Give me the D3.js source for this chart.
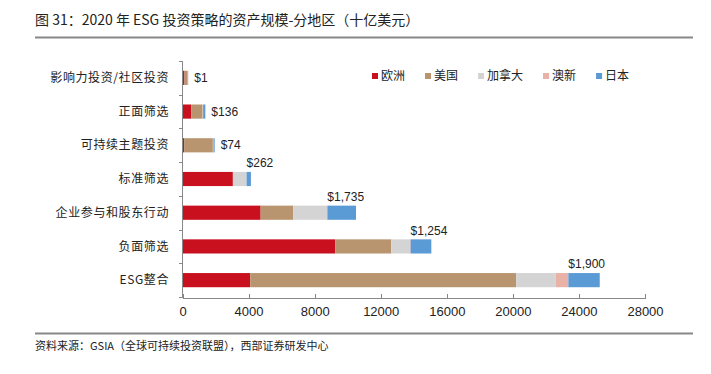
<!DOCTYPE html>
<meta charset="utf-8">
<head>
<title>ESG 投资策略的资产规模</title>
<style>
body { margin: 0; background: #fff; }
svg text { font-family: "Liberation Sans", Arial, "Noto Sans CJK SC", sans-serif; }
.cjk { font-family: "Noto Sans CJK SC", sans-serif; }
.axis path, .axis line { stroke: #888; shape-rendering: crispEdges; }
</style>
</head>
<body>
<script src="https://d3js.org/d3.v7.min.js"></script>
<script>

// Data (billions USD)
var categories = ["影响力投资/社区投资", "正面筛选", "可持续主题投资", "标准筛选", "企业参与和股东行动", "负面筛选", "ESG整合"];
var regions = ["欧洲", "美国", "加拿大", "澳新", "日本"];
var europe = [120, 530, 100, 3050, 4730, 9250, 4100];
var usa = [200, 690, 1740, 0, 1980, 3390, 16100];
var canada = [15, 20, 20, 830, 2060, 1110, 2400];
var australasia = [16, 8, 14, 0, 0, 60, 760];
var japan = [1, 136, 74, 262, 1735, 1254, 1900];
var valueLabels = ["$1", "$136", "$74", "$262", "$1,735", "$1,254", "$1,900"];
var xTicks = [0, 4000, 8000, 12000, 16000, 20000, 24000, 28000];

var colors = ["#c8101f", "#b8956e", "#d4d4d4", "#e8b2a7", "#5b9bd5"];

var W = 711, H = 374;

var svg = d3.select("body").append("svg")
    .attr("width", W)
    .attr("height", H);

// Title and rules
svg.append("text")
    .attr("class", "cjk")
    .attr("x", 35)
    .attr("y", 25)
    .style("font-size", "14px")
    .attr("fill", "#222")
    .text("图 31：2020 年 ESG 投资策略的资产规模-分地区（十亿美元）");

svg.append("line")
    .attr("x1", 35).attr("x2", 693)
    .attr("y1", 37.5).attr("y2", 37.5)
    .attr("stroke", "#888").attr("stroke-width", 2);

svg.append("line")
    .attr("x1", 35).attr("x2", 693)
    .attr("y1", 333.5).attr("y2", 333.5)
    .attr("stroke", "#888").attr("stroke-width", 2);

svg.append("text")
    .attr("class", "cjk")
    .attr("x", 35)
    .attr("y", 350)
    .style("font-size", "11px")
    .attr("fill", "#222")
    .text("资料来源：GSIA（全球可持续投资联盟），西部证券研发中心");

// Scales
var x = d3.scaleLinear().domain([0, 28000]).range([182.5, 645]);
var y = d3.scaleBand().domain(categories).range([61, 297]).paddingInner(0.58).paddingOuter(0.29);

// Stack
var rows = categories.map(function(c, i) {
    return { cat: c, "欧洲": europe[i], "美国": usa[i], "加拿大": canada[i], "澳新": australasia[i], "日本": japan[i] };
});
var stacked = d3.stack().keys(regions)(rows);

svg.append("g").selectAll("g")
    .data(stacked)
    .enter().append("g")
    .attr("fill", function(d, i) { return colors[i]; })
    .selectAll("rect")
    .data(function(d) { return d; })
    .enter().append("rect")
    .attr("x", function(d) { return x(d[0]); })
    .attr("width", function(d) { return Math.max(0, x(d[1]) - x(d[0])); })
    .attr("y", function(d) { return y(d.data.cat); })
    .attr("height", y.bandwidth());

// X axis
var xAxis = svg.append("g")
    .attr("class", "axis")
    .attr("transform", "translate(0,297.5)")
    .call(d3.axisBottom(x).tickValues(xTicks).tickFormat(d3.format("d")).tickSize(-4).tickSizeOuter(0).tickPadding(9));
xAxis.selectAll("text").style("font-size", "13px").attr("fill", "#222");

// Y axis: line with ticks at category boundaries
var yAxis = svg.append("g").attr("class", "axis");
yAxis.append("line")
    .attr("x1", 182.5).attr("x2", 182.5)
    .attr("y1", 61).attr("y2", 297.5);
yAxis.selectAll(".ytick")
    .data(d3.range(categories.length + 1))
    .enter().append("line")
    .attr("class", "ytick")
    .attr("x1", 179).attr("x2", 182.5)
    .attr("y1", function(i) { return Math.round(61 + i * y.step()) + 0.5; })
    .attr("y2", function(i) { return Math.round(61 + i * y.step()) + 0.5; });

svg.append("g").selectAll("text")
    .data(categories)
    .enter().append("text")
    .attr("class", "cjk")
    .attr("x", 169)
    .attr("y", function(d) { return y(d) + y.bandwidth() / 2; })
    .attr("dy", "0.35em")
    .attr("text-anchor", "end")
    .style("font-size", "12px")
    .style("letter-spacing", "0.6px")
    .attr("fill", "#222")
    .text(function(d) { return d; });

// Value labels (Japan)
svg.append("g").selectAll("text")
    .data(valueLabels)
    .enter().append("text")
    .attr("x", function(d, i) {
        var total = europe[i] + usa[i] + canada[i] + australasia[i] + japan[i];
        return i < 3 ? x(total) + 6 : x(total - japan[i]);
    })
    .attr("y", function(d, i) {
        var yc = y(categories[i]);
        return i < 3 ? yc + y.bandwidth() / 2 : yc - 9;
    })
    .attr("dy", "0.35em")
    .style("font-size", "12px")
    .attr("fill", "#222")
    .text(function(d) { return d; });

// Legend
var lx = 372;
regions.forEach(function(r, i) {
    svg.append("rect")
        .attr("x", lx).attr("y", 73)
        .attr("width", 6).attr("height", 6)
        .attr("fill", colors[i]);
    var t = svg.append("text")
        .attr("class", "cjk")
        .attr("x", lx + 9)
        .attr("y", 76)
        .attr("dy", "0.35em")
        .style("font-size", "12px")
        .attr("fill", "#222")
        .text(r);
    lx += 9 + t.node().getComputedTextLength() + 20;
});

</script>
</body>
